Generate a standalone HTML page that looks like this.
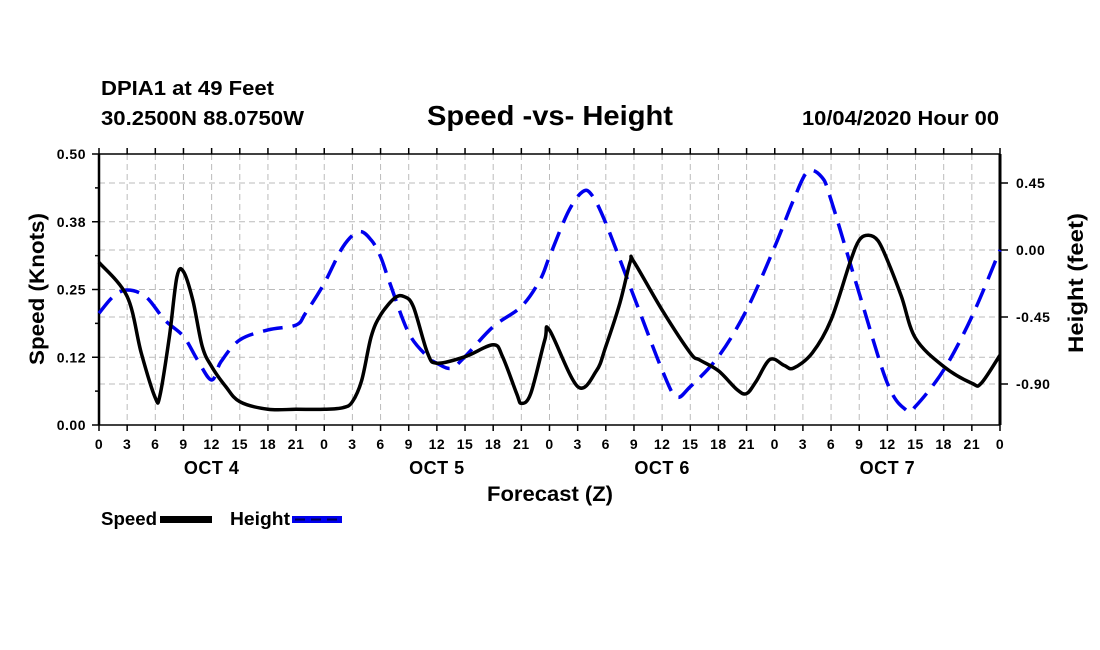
<!DOCTYPE html>
<html><head><meta charset="utf-8"><style>
html,body{margin:0;padding:0;background:#fff;}
svg{display:block;font-family:"Liberation Sans",Arial,sans-serif;font-weight:bold;}
</style></head><body>
<svg id="chart" width="1100" height="650" viewBox="0 0 1100 650" xmlns="http://www.w3.org/2000/svg">
<text x="101" y="95" font-size="20" textLength="173" lengthAdjust="spacingAndGlyphs">DPIA1 at 49 Feet</text>
<text x="101" y="125" font-size="20" textLength="203" lengthAdjust="spacingAndGlyphs">30.2500N 88.0750W</text>
<text x="427" y="125" font-size="28" textLength="246" lengthAdjust="spacingAndGlyphs">Speed -vs- Height</text>
<text x="802" y="125" font-size="20" textLength="197" lengthAdjust="spacingAndGlyphs">10/04/2020 Hour 00</text>
<g id="grid"></g>
<g id="axes"></g>
<g id="series"></g>
<text x="487" y="501" font-size="21" textLength="126" lengthAdjust="spacingAndGlyphs">Forecast (Z)</text>
<text transform="translate(44,365) rotate(-90)" font-size="21" textLength="152" lengthAdjust="spacingAndGlyphs">Speed (Knots)</text>
<text transform="translate(1083,353) rotate(-90)" font-size="21" textLength="140" lengthAdjust="spacingAndGlyphs">Height (feet)</text>
<g>
<text x="101" y="525" font-size="18" textLength="56" lengthAdjust="spacingAndGlyphs">Speed</text>
<rect x="160" y="516" width="52" height="7" fill="#000"/>
<text x="230" y="525" font-size="18" textLength="60" lengthAdjust="spacingAndGlyphs">Height</text>
<rect x="292" y="516" width="50" height="7" fill="#0000ee"/>
<line x1="295" y1="519.5" x2="340" y2="519.5" stroke="#000055" stroke-width="2" stroke-dasharray="10,6"/>
</g>
</svg>
<script>
const speedHours=[0,3,4.5,6,6.5,7.5,8.3,9,10,11,12,13.5,15,18,21,24,26,27,28,29,30,31.5,32.5,33.5,35,36,39,42,43,44.5,45,46,47.5,48,51,53,54,55.5,56.6,57,60,63,64,66,68,69,70,71.5,73,74,76,78,80,81,82,83,84,85.5,87,90,93,94,96];
const speedValues=[0.30,0.237,0.133,0.05,0.055,0.163,0.273,0.283,0.23,0.145,0.108,0.071,0.043,0.029,0.029,0.029,0.032,0.043,0.083,0.163,0.203,0.234,0.237,0.218,0.133,0.114,0.126,0.148,0.126,0.058,0.04,0.058,0.157,0.175,0.071,0.1,0.145,0.225,0.301,0.301,0.212,0.133,0.12,0.1,0.065,0.058,0.08,0.121,0.11,0.105,0.133,0.194,0.299,0.341,0.35,0.34,0.304,0.237,0.16,0.108,0.077,0.077,0.129];
const heightHours=[0,1.5,3,5,7,9,10.5,12,13,15,18,21,22,24,26,27.7,29,30,31,33,35,36,37.5,39,42,45,47,48,50,51.5,52.5,54,57,60,61.5,63,66,69,72,74,75.5,77,78,81,84,86,87,90,93,96];
const heightValues=[-0.425,-0.314,-0.269,-0.314,-0.47,-0.58,-0.739,-0.873,-0.75,-0.604,-0.537,-0.504,-0.425,-0.224,0.022,0.123,0.067,-0.045,-0.224,-0.558,-0.716,-0.76,-0.795,-0.716,-0.515,-0.38,-0.2,-0.045,0.257,0.39,0.37,0.18,-0.314,-0.806,-0.985,-0.918,-0.716,-0.403,0.022,0.336,0.526,0.49,0.336,-0.291,-0.895,-1.075,-1.05,-0.806,-0.448,0.0];
const leftTicks=[0,0.125,0.25,0.375,0.5];
const leftTickLabels=["0.00","0.12","0.25","0.38","0.50"];
const rightTicks=[0.45,0,-0.45,-0.9];
const rightTickLabels=["0.45","0.00","-0.45","-0.90"];
const dayLabels=["OCT 4","OCT 5","OCT 6","OCT 7"];

const X0=99,X1=1000,Y0=425,Y1=154;
const xs=h=>X0+(h/96)*(X1-X0);
const yL=v=>Y0-(v/0.5)*(Y0-Y1);
const yR=v=>250-(v/0.45)*67;
const NS="http://www.w3.org/2000/svg";
function mk(tag,attrs,parent,txt){const e=document.createElementNS(NS,tag);for(const k in attrs)e.setAttribute(k,attrs[k]);if(txt!==undefined)e.textContent=txt;parent.appendChild(e);return e;}
const grid=document.getElementById('grid'),axes=document.getElementById('axes'),series=document.getElementById('series');
const gs={stroke:"#bbb","stroke-width":1,"stroke-dasharray":"6,4"};
for(let h=3;h<96;h+=3){const l=mk('line',Object.assign({x1:xs(h),x2:xs(h),y1:Y1,y2:Y0},gs),grid);

}
leftTicks.slice(1,-1).forEach(v=>{const l=mk('line',Object.assign({x1:X0,x2:X1,y1:yL(v),y2:yL(v)},gs),grid);

});
rightTicks.forEach(v=>{const l=mk('line',Object.assign({x1:X0,x2:X1,y1:yR(v),y2:yR(v)},gs),grid);

});
mk('line',{x1:X0,x2:X0,y1:Y1,y2:Y0,stroke:"#000","stroke-width":2.5},axes);
mk('line',{x1:X1,x2:X1,y1:Y1,y2:Y0,stroke:"#000","stroke-width":3},axes);
mk('line',{x1:X0,x2:X1,y1:Y0,y2:Y0,stroke:"#000","stroke-width":1.5},axes);
mk('line',{x1:X0,x2:X1,y1:Y1,y2:Y1,stroke:"#000","stroke-width":1.5},axes);
for(let i=0;i<=8;i++){const v=i*0.0625;mk('line',{x1:X0-(i%2?4:7),x2:X0,y1:yL(v),y2:yL(v),stroke:"#000","stroke-width":1.5},axes);}
leftTicks.forEach((v,i)=>{const t=mk('text',{x:X0-13,y:yL(v)+5,"font-size":14,"letter-spacing":"0.5","text-anchor":"end"},axes,leftTickLabels[i]);

});
rightTicks.forEach((v,i)=>{mk('line',{x1:X1,x2:X1+8,y1:yR(v),y2:yR(v),stroke:"#000","stroke-width":1.5},axes);
const t=mk('text',{x:1016,y:yR(v)+5,"font-size":14,"letter-spacing":"0.5"},axes,rightTickLabels[i]);

});
for(let h=0;h<=96;h+=3){mk('line',{x1:xs(h),x2:xs(h),y1:Y0,y2:Y0+6,stroke:"#000","stroke-width":1.5},axes);
mk('line',{x1:xs(h),x2:xs(h),y1:Y1-6,y2:Y1,stroke:"#000","stroke-width":1.5},axes);
const t=mk('text',{x:xs(h),y:Y0+24,"font-size":14,"letter-spacing":"0.5","text-anchor":"middle"},axes,String(h%24));

}
dayLabels.forEach((d,i)=>{const t=mk('text',{x:xs(12+24*i),y:Y0+49,"font-size":18,"letter-spacing":"0.5","text-anchor":"middle"},axes,d);

});
function path(hs,vs,yf){const p=hs.map((h,i)=>[xs(h),yf(vs[i])]);let d=`M${p[0][0]},${p[0][1]}`;
for(let i=0;i<p.length-1;i++){const a=p[Math.max(0,i-1)],b=p[i],c=p[i+1],e=p[Math.min(p.length-1,i+2)];
const c1=[b[0]+(c[0]-a[0])/6,b[1]+(c[1]-a[1])/6],c2=[c[0]-(e[0]-b[0])/6,c[1]-(e[1]-b[1])/6];
d+=` C${c1[0]},${c1[1]} ${c2[0]},${c2[1]} ${c[0]},${c[1]}`;}return d;}
const hp=mk('path',{d:path(heightHours,heightValues,yR),fill:"none",stroke:"#0000ee","stroke-width":3.5,"stroke-dasharray":"20,10"},series);


const sp=mk('path',{d:path(speedHours,speedValues,yL),fill:"none",stroke:"#000","stroke-width":3.5},series);


</script>
</body></html>
